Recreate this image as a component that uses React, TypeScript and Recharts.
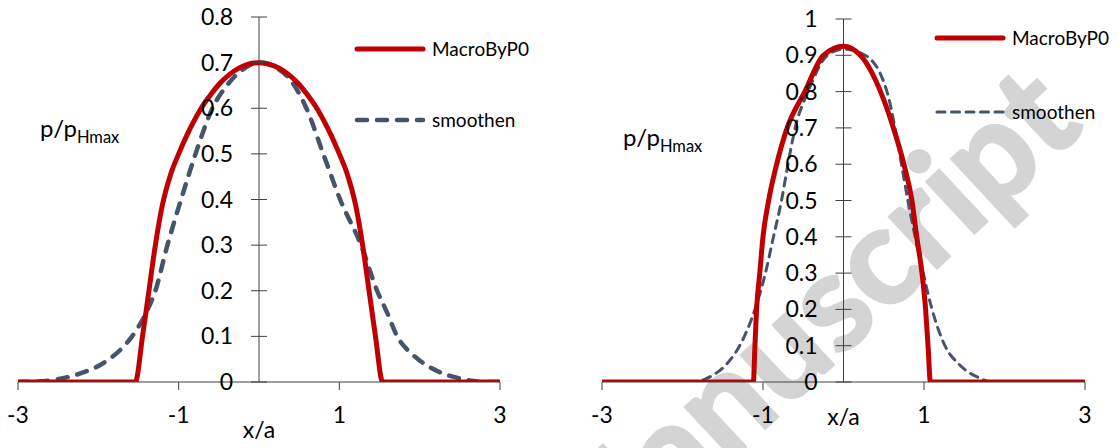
import { LineChart, Line, XAxis, YAxis, ReferenceLine, ReferenceDot, Legend } from 'recharts';

const FONT = 'Lato, "Open Sans", sans-serif';
const RED = '#C00000';
const SLATE = '#44546A';
const AXIS = '#404040';

// shared x ticks
const xTicks = [-3, -1, 1, 3];

// left panel
const leftYTicks = [0, 0.1, 0.2, 0.3, 0.4, 0.5, 0.6, 0.7, 0.8];
const leftYLabels = ['0', '0.1', '0.2', '0.3', '0.4', '0.5', '0.6', '0.7', '0.8'];

const leftMacroX = [-3, -2, -1.56, -1.54, -1.45, -1.37, -1.29, -1.2, -1.1, -1.0, -0.9, -0.8, -0.72, -0.6, -0.5, -0.25, 0,
  0.25, 0.5, 0.6, 0.72, 0.8, 0.9, 1.0, 1.1, 1.2, 1.29, 1.37, 1.45, 1.54, 1.56, 2, 3];
const leftMacroY = [0, 0, 0, 0, 0.1, 0.2, 0.3, 0.39, 0.455, 0.5, 0.54, 0.575, 0.6, 0.63, 0.652, 0.688, 0.7,
  0.688, 0.652, 0.63, 0.6, 0.575, 0.54, 0.5, 0.455, 0.39, 0.3, 0.2, 0.1, 0, 0, 0, 0];

const leftSmoothX = [-3, -2.75, -2.54, -2.35, -2.17, -2.0, -1.85, -1.7, -1.58, -1.41, -1.29, -1.14, -0.97, -0.79, -0.58, -0.4, -0.2, 0,
  0.2, 0.4, 0.59, 0.8, 1.01, 1.27, 1.47, 1.6, 1.72, 1.85, 1.98, 2.27, 2.45, 2.64, 2.8, 3];
const leftSmoothY = [0, 0.001, 0.005, 0.012, 0.022, 0.035, 0.052, 0.075, 0.1, 0.15, 0.2, 0.3, 0.4, 0.5, 0.6, 0.65, 0.685, 0.7,
  0.69, 0.66, 0.6, 0.5, 0.4, 0.3, 0.2, 0.15, 0.1, 0.07, 0.05, 0.02, 0.01, 0.003, 0, 0];

// right panel
const rightYTicks = [0, 0.1, 0.2, 0.3, 0.4, 0.5, 0.6, 0.7, 0.8, 0.9, 1];
const rightYLabels = ['0', '0.1', '0.2', '0.3', '0.4', '0.5', '0.6', '0.7', '0.8', '0.9', '1'];

const rightMacroX = [-3, -2, -1.12, -1.1, -1.08, -1.04, -1.0, -0.93, -0.83, -0.7, -0.48, -0.25, 0,
  0.21, 0.46, 0.62, 0.75, 0.85, 0.91, 0.975, 1.02, 1.05, 1.08, 2, 3];
const rightMacroY = [0, 0, 0, 0.1, 0.2, 0.3, 0.4, 0.5, 0.6, 0.7, 0.8, 0.9, 0.925,
  0.9, 0.8, 0.7, 0.6, 0.5, 0.4, 0.3, 0.2, 0.1, 0, 0, 0];

const rightSmoothX = [-3, -1.85, -1.7, -1.45, -1.29, -1.1, -0.97, -0.87, -0.77, -0.69, -0.6, -0.44, -0.2, 0,
  0.27, 0.54, 0.64, 0.72, 0.8, 0.89, 0.99, 1.1, 1.26, 1.43, 1.7, 1.85, 3];
const rightSmoothY = [0, 0, 0.01, 0.05, 0.1, 0.2, 0.3, 0.4, 0.5, 0.6, 0.7, 0.8, 0.9, 0.917,
  0.9, 0.8, 0.7, 0.6, 0.5, 0.4, 0.3, 0.2, 0.1, 0.05, 0.01, 0, 0];

const toPoints = (xs: number[], ys: number[]) => xs.map((x, i) => ({ x, y: ys[i] }));

const yTickShape = (label: string) => (props: any) => (
  <g>
    <line x1={props.cx - 8} x2={props.cx + 8} y1={props.cy} y2={props.cy} stroke={AXIS} strokeWidth={1} />
    <text x={props.cx - 26} y={props.cy} dy="0.35em" textAnchor="end" fontFamily={FONT} fontSize={23} fill="#000">
      {label}
    </text>
  </g>
);

const makeLegend = (rowGap: number) => (props: any) => {
  const items = props.payload || [];
  return (
    <svg width={180} height={rowGap + 24}>
      {items.map((entry: any, i: number) => {
        const p = entry.payload || {};
        const y = 10 + i * rowGap;
        return (
          <g key={entry.value}>
            <line x1={3} x2={69} y1={y} y2={y} stroke={entry.color} strokeWidth={p.strokeWidth}
              strokeDasharray={p.strokeDasharray} strokeLinecap="round" />
            <text x={78} y={y} dy="0.35em" fontFamily={FONT} fontSize={19} fill="#000">{entry.value}</text>
          </g>
        );
      })}
    </svg>
  );
};

interface PanelProps {
  macro: { x: number; y: number }[];
  smooth: { x: number; y: number }[];
  yMax: number;
  yTicks: number[];
  yLabels: string[];
  width: number;
  margin: { top: number; right: number; bottom: number; left: number };
  dash: string;
  dashWidth: number;
  xLabelOffset: number;
  legendPos: { left: number; top: number };
  legendGap: number;
}

function Panel(p: PanelProps) {
  return (
    <LineChart width={p.width} height={448} margin={p.margin}>
      <XAxis
        type="number"
        dataKey="x"
        domain={[-3, 3]}
        ticks={xTicks}
        interval={0}
        allowDataOverflow
        tickSize={8}
        tickMargin={17}
        height={66}
        axisLine={{ stroke: AXIS }}
        tickLine={{ stroke: AXIS }}
        tick={{ fill: '#000', fontSize: 23, fontFamily: FONT }}
        label={{ value: 'x/a', position: 'insideBottom', offset: p.xLabelOffset, fill: '#000', fontSize: 23, fontFamily: FONT }}
      />
      <YAxis hide type="number" dataKey="y" domain={[0, p.yMax]} allowDataOverflow />
      <ReferenceLine x={0} stroke={AXIS} strokeWidth={1} />
      {p.yTicks.map((v, i) => (
        <ReferenceDot key={v} x={0} y={v} r={0} ifOverflow="visible" shape={yTickShape(p.yLabels[i])} />
      ))}
      <Legend
        layout="horizontal"
        align="center"
        verticalAlign="middle"
        content={makeLegend(p.legendGap)}
        wrapperStyle={{ position: 'absolute', left: p.legendPos.left, top: p.legendPos.top, width: 180 }}
      />
      <Line
        data={p.smooth}
        dataKey="y"
        name="smoothen"
        type="monotone"
        stroke={SLATE}
        strokeWidth={p.dashWidth}
        strokeDasharray={p.dash}
        strokeLinecap="round"
        dot={false}
        isAnimationActive={false}
        legendType="line"
      />
      <Line
        data={p.macro}
        dataKey="y"
        name="MacroByP0"
        type="monotone"
        stroke={RED}
        strokeWidth={5}
        dot={false}
        isAnimationActive={false}
        legendType="line"
      />
    </LineChart>
  );
}

export default function App() {
  return (
    <div style={{ position: 'fixed', left: 0, top: 0, width: 1118, height: 448, background: '#fff', overflow: 'hidden' }}>
      <svg width={1118} height={448} style={{ position: 'absolute', left: 0, top: 0 }}>
        <text
          x={835}
          y={363}
          transform="rotate(-43 835 363)"
          textAnchor="middle"
          fontFamily={FONT}
          fontWeight="bold"
          fontSize={136}
          fill="#d4d4d4"
          stroke="#d4d4d4"
          strokeWidth={3}
        >
          Manuscript
        </text>
      </svg>
      <div style={{ position: 'absolute', left: 0, top: 0 }}>
        <Panel
          macro={toPoints(leftMacroX, leftMacroY)}
          smooth={toPoints(leftSmoothX, leftSmoothY)}
          yMax={0.8}
          yTicks={leftYTicks}
          yLabels={leftYLabels}
          width={560}
          margin={{ top: 17, right: 60, bottom: 0, left: 18 }}
          dash="10 10"
          dashWidth={4.5}
          xLabelOffset={10}
          legendPos={{ left: 354, top: 39 }}
          legendGap={71}
        />
      </div>
      <div style={{ position: 'absolute', left: 560, top: 0 }}>
        <Panel
          macro={toPoints(rightMacroX, rightMacroY)}
          smooth={toPoints(rightSmoothX, rightSmoothY)}
          yMax={1}
          yTicks={rightYTicks}
          yLabels={rightYLabels}
          width={558}
          margin={{ top: 19, right: 33, bottom: 0, left: 42 }}
          dash="8 6.5"
          dashWidth={3}
          xLabelOffset={23}
          legendPos={{ left: 374, top: 28 }}
          legendGap={74}
        />
      </div>
      <svg width={1118} height={448} style={{ position: 'absolute', left: 0, top: 0, pointerEvents: 'none' }}>
        <text x={40} y={137} fontFamily={FONT} fontSize={24} fill="#000">
          p/p<tspan fontSize={16.5} dy={6}>Hmax</tspan>
        </text>
        <text x={623} y={146} fontFamily={FONT} fontSize={24} fill="#000">
          p/p<tspan fontSize={16.5} dy={6}>Hmax</tspan>
        </text>
      </svg>
    </div>
  );
}
